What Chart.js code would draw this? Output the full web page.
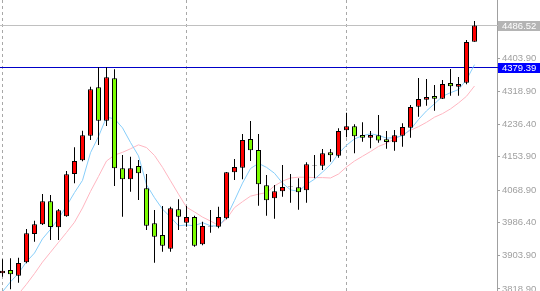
<!DOCTYPE html>
<html><head><meta charset="utf-8">
<script src="https://cdn.jsdelivr.net/npm/chart.js@4/dist/chart.umd.min.js"></script>
<style>html,body{margin:0;padding:0;background:#fff;overflow:hidden}canvas{display:block}</style>
</head><body>
<canvas id="c" width="540" height="291"></canvas>
<script>
// Candle data (index = bar number, oldest first)
const open  = [3858.7,3867.0,3852.6,3886.5,3958.2,3982.7,4041.0,3975.2,4003.0,4110.1,4144.8,4207.1,4329.7,4245.1,4352.5,4124.6,4096.7,4130.4,4073.9,3985.3,3955.6,3921.0,4020.7,3986.8,4001.2,3932.1,3977.4,3976.7,3997.9,4114.4,4126.1,4198.8,4170.9,4081.5,4048.6,4066.3,4077.9,4076.5,4068.9,4130.3,4131.2,4165.1,4156.5,4220.8,4230.9,4208.9,4202.0,4208.4,4198.0,4190.4,4207.1,4227.4,4280.6,4298.3,4307.7,4300.8,4340.6,4331.2,4341.4,4445.2];
const high  = [3894.1,3896.6,3898.2,3970.8,3991.9,4059.5,4056.9,4021.5,4117.7,4177.8,4219.8,4331.2,4380.4,4380.4,4375.3,4158.3,4153.9,4145.6,4110.1,4019.0,4029.1,4027.3,4046.0,4029.1,4004.5,3989.3,4019.0,4027.3,4115.5,4148.1,4211.4,4244.4,4211.4,4107.6,4082.3,4132.9,4110.1,4099.2,4139.8,4158.3,4173.4,4173.4,4225.9,4265.4,4236.0,4241.0,4219.0,4259.6,4219.0,4221.6,4238.5,4284.9,4353.2,4350.7,4335.5,4348.2,4376.0,4355.8,4449.5,4497.6];
const low   = [3850.0,3818.0,3834.8,3884.0,3938.7,3981.0,3943.0,3943.0,4002.0,4086.6,4142.3,4196.2,4183.6,4231.7,4079.7,4002.0,4065.3,4044.3,3968.3,3885.5,3913.4,3913.4,3968.3,3976.7,3926.0,3929.6,3961.5,3972.6,3995.4,4094.9,4096.7,4143.1,4029.9,4004.5,3996.9,4052.6,4037.4,4019.7,4037.4,4099.2,4120.3,4141.3,4151.4,4203.1,4162.6,4191.9,4175.2,4189.4,4174.2,4169.1,4179.3,4202.0,4255.2,4283.1,4270.4,4300.1,4308.4,4308.4,4337.3,4445.2];
const close = [3865.2,3856.1,3884.7,3960.0,3982.7,4041.0,3975.9,4018.2,4109.4,4143.1,4208.1,4324.6,4245.1,4355.0,4124.6,4096.7,4124.6,4111.9,3979.2,3951.3,3928.5,4023.3,4002.0,4001.2,3928.5,3978.4,3978.6,4001.2,4114.4,4127.9,4196.2,4170.2,4084.0,4043.5,4066.3,4077.2,4079.1,4063.8,4134.7,4131.5,4162.6,4157.5,4219.0,4230.9,4205.6,4202.0,4208.9,4195.0,4191.2,4208.1,4229.2,4279.8,4300.1,4305.1,4300.8,4338.1,4332.2,4338.1,4444.4,4486.52];
// Moving averages
const maFast = [3812,3837,3859,3888,3910,3946,3970,3997,4029,4063,4094,4164,4205,4254,4250,4227,4190,4156,4083,4050,4021,4001,3979,3981,3979,3987,3979,3978,4001,4043,4087,4124,4137,4127,4112,4087,4070,4066,4084,4097,4115,4134,4162,4183,4199,4207,4212,4208,4201,4202,4207,4223,4248,4270,4288,4307,4316,4324,4349,4387];
const maSlow = [null,null,3806,3831,3858,3887,3912,3937,3962,3988,4024,4066,4104,4143,4158,4165,4174,4184,4177,4157,4127,4093,4059,4026,4014,4001,3991,3980,3996,4025,4040,4054,4059,4063,4080,4092,4100,4102,4102,4101,4101,4100,4110,4128,4143,4155,4167,4180,4188,4199,4209,4221,4230,4241,4254,4263,4275,4290,4307,4333];
const tickLabels = ["4403.90","4318.90","4236.40","4153.90","4068.90","3986.40","3903.90","3818.90"];
const separators = [0, 23, 43];
const bidPrice = 4486.52;
const levelPrice = 4379.39;

const idx = close.map((_, i) => i);
const UP = '#ff0000', DOWN = '#7cfc00';
const FONT = '9.5px "Liberation Sans", Arial, sans-serif';

const overlay = {
  id: 'overlay',
  beforeDatasetsDraw(chart) {
    const {ctx, chartArea: a, scales: {x, y}} = chart;
    ctx.save();
    ctx.lineWidth = 1;
    ctx.strokeStyle = '#a8a8a8';
    ctx.setLineDash([3, 3]);
    separators.forEach(i => {
      const px = Math.floor(x.getPixelForValue(i)) + 0.5;
      ctx.beginPath(); ctx.moveTo(px, a.top); ctx.lineTo(px, a.bottom); ctx.stroke();
    });
    ctx.setLineDash([]);
    [[bidPrice, '#c0c0c0'], [levelPrice, '#0000c8']].forEach(([v, c]) => {
      const py = Math.floor(y.getPixelForValue(v)) + 0.5;
      ctx.strokeStyle = c;
      ctx.beginPath(); ctx.moveTo(a.left, py); ctx.lineTo(a.right + 1, py); ctx.stroke();
    });
    ctx.restore();
  },
  afterDraw(chart) {
    const {ctx, chartArea: a, scales: {y}} = chart;
    ctx.save();
    [[bidPrice, '#b4b4b4'], [levelPrice, '#0000ff']].forEach(([v, c]) => {
      const py = Math.floor(y.getPixelForValue(v));
      ctx.fillStyle = c;
      ctx.fillRect(a.right + 1, py - 4, 42, 10);
      ctx.fillStyle = '#ffffff';
      ctx.font = FONT;
      ctx.textBaseline = 'middle';
      ctx.textAlign = 'left';
      ctx.fillText(v.toFixed(2), a.right + 5, py + 1.5);
    });
    ctx.restore();
  }
};

new Chart(document.getElementById('c'), {
  type: 'bar',
  data: {
    datasets: [
      { type: 'line', data: idx.map(i => ({x: i, y: maSlow[i]})), borderColor: '#ffb6c1', borderWidth: 1, pointRadius: 0, tension: 0, order: 5 },
      { type: 'line', data: idx.map(i => ({x: i, y: maFast[i]})), borderColor: '#87cefa', borderWidth: 1, pointRadius: 0, tension: 0, order: 4 },
      { data: idx.map(i => ({x: i, y: [low[i], high[i]]})), backgroundColor: '#000000', borderWidth: 0,
        barThickness: 1, grouped: false, inflateAmount: 0, borderSkipped: false, order: 2 },
      { data: idx.map(i => ({x: i, y: [open[i], close[i]]})),
        backgroundColor: idx.map(i => close[i] >= open[i] ? UP : DOWN),
        borderColor: '#000000', borderWidth: 1, borderSkipped: false,
        barThickness: 5, grouped: false, inflateAmount: 0, order: 1 }
    ]
  },
  options: {
    responsive: false, animation: false, devicePixelRatio: 1,
    layout: {padding: 0},
    plugins: {legend: {display: false}, tooltip: {enabled: false}},
    scales: {
      x: {type: 'linear', min: -0.3125, max: 61.8125, display: false, offset: false, grid: {display: false}},
      y: {
        type: 'linear', position: 'right', min: 3813.8, max: 4550.8, bounds: 'data',
        afterBuildTicks: s => { s.ticks = tickLabels.map(t => ({value: parseFloat(t)})); },
        afterFit: s => { s.width = 43; s.paddingTop = 0; s.paddingBottom = 0; },
        ticks: {
          callback: (v, i) => tickLabels[i], color: '#a0a0a0', padding: 2, autoSkip: false,
          crossAlign: 'near', font: {family: '"Liberation Sans", Arial, sans-serif', size: 9.5}
        },
        grid: {drawOnChartArea: false, drawTicks: true, tickLength: 3, color: '#a0a0a0'},
        border: {display: true, color: '#a0a0a0'}
      }
    }
  },
  plugins: [overlay]
});
</script>
</body></html>
